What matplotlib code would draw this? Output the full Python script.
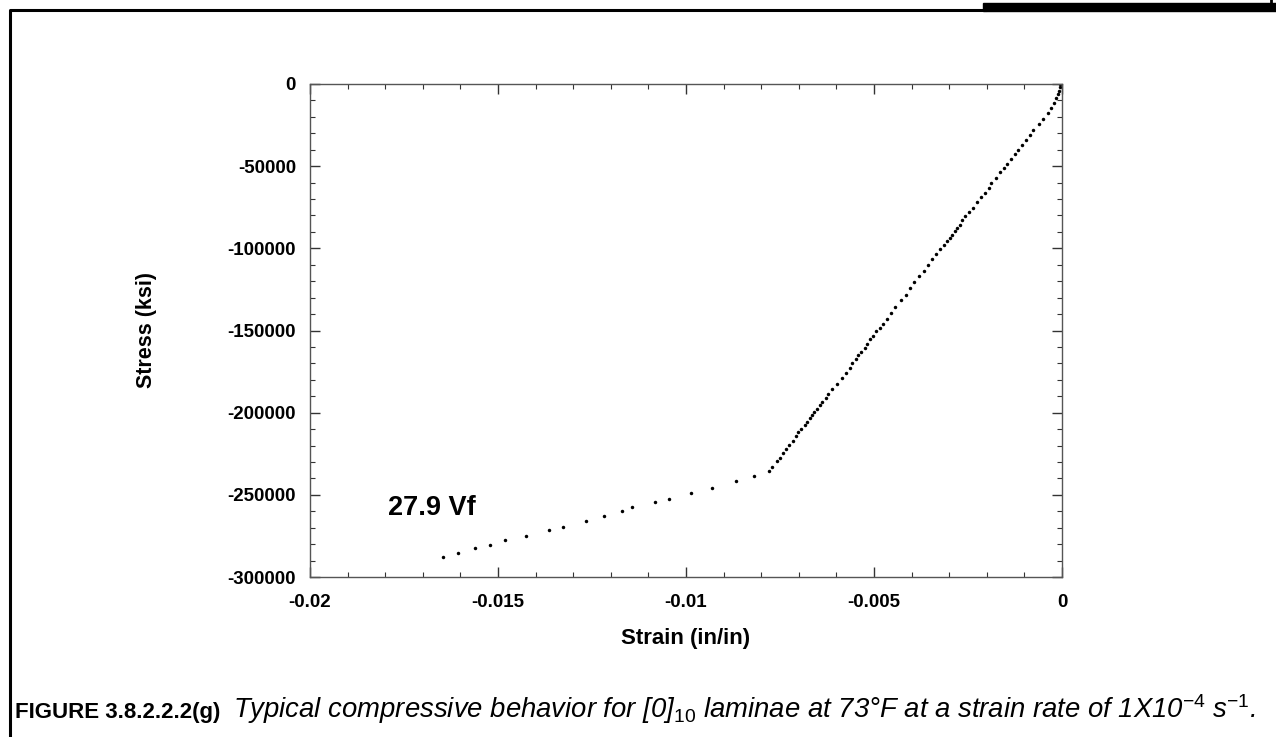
import numpy as np
import matplotlib
matplotlib.use('Agg')
import matplotlib.pyplot as plt
from matplotlib.lines import Line2D
from matplotlib.patches import Rectangle

plt.rcParams['font.family'] = ['Liberation Sans', 'DejaVu Sans']
plt.rcParams['mathtext.fontset'] = 'custom'
plt.rcParams['mathtext.rm'] = 'Liberation Sans'
plt.rcParams['mathtext.it'] = 'Liberation Sans:italic'
plt.rcParams['mathtext.bf'] = 'Liberation Sans:bold'
plt.rcParams['mathtext.default'] = 'it'

# strain (in/in) and stress readings
strain = [-0.01646, -0.01606, -0.01562, -0.01521, -0.01481, -0.01426, -0.01364,
          -0.01328, -0.01267, -0.01219, -0.01170, -0.01144, -0.01082, -0.01044,
          -0.00988, -0.00932, -0.00866, -0.00820, -0.00779, -0.007705, -0.00758,
          -0.007500, -0.007428, -0.007340, -0.007261, -0.007154, -0.007082,
          -0.007013, -0.006941, -0.006843, -0.006782, -0.006710, -0.006649,
          -0.006588, -0.006524, -0.006436, -0.006383, -0.006285, -0.006215,
          -0.006109, -0.005984, -0.005859, -0.005753, -0.005646, -0.005577,
          -0.005471, -0.005426, -0.005338, -0.005247, -0.005178, -0.005106,
          -0.005027, -0.004939, -0.004832, -0.004753, -0.004654, -0.004548,
          -0.004434, -0.004274, -0.004157, -0.004043,
          -0.003928, -0.003811, -0.003678, -0.003564, -0.003449, -0.003343,
          -0.003237, -0.003146, -0.003059, -0.002987, -0.002918, -0.002838,
          -0.002785, -0.002713, -0.002660, -0.002572, -0.002465, -0.002359,
          -0.002261, -0.002162, -0.002056, -0.001949, -0.001880, -0.001747,
          -0.001641, -0.001550, -0.001455, -0.001356, -0.001250, -0.001162,
          -0.001056, -0.000965, -0.000859, -0.000763, -0.000612, -0.000505,
          -0.000372, -0.000293, -0.000213, -0.000168, -0.000114, -0.000088,
          -0.000066, -0.000053]
stress = [-287600, -285200, -282500, -280300, -277600, -274800, -271200,
          -269300, -265700, -262800, -259600, -257700, -254300, -252300,
          -248800, -245600, -241600, -238600, -235400, -232900, -229500,
          -227300, -224600, -222400, -219700, -217100, -214500,
          -211800, -210200, -207500, -205700, -203500, -201600,
          -199600, -197600, -195300, -193700, -191300, -188800,
          -185400, -182300, -178800, -175600, -172600, -169500,
          -167100, -165200, -163000, -160600, -158100, -155300,
          -153100, -150400, -148400, -145900, -143100, -139600,
          -135800, -131500, -128100, -124400,
          -120500, -117100, -113600, -109900, -106700, -103500,
          -100400, -98000, -95700, -93500, -91600, -89600,
          -87800, -85800, -82900, -80500, -77900, -75200,
          -72100, -68700, -66300, -63200, -60200, -57300,
          -53800, -51000, -48400, -45500, -42500, -40100,
          -37000, -34100, -31100, -27900, -24400, -21200,
          -17700, -14500, -11600, -8700, -6300, -4100,
          -1800, -200]

x_ticks = [-0.02, -0.015, -0.01, -0.005, 0]
x_labels = ['-0.02', '-0.015', '-0.01', '-0.005', '0']
y_ticks = [0, -50000, -100000, -150000, -200000, -250000, -300000]
y_labels = ['0', '-50000', '-100000', '-150000', '-200000', '-250000', '-300000']

W, H = 1276, 737
fig = plt.figure(figsize=(W / 100, H / 100), dpi=100)
ax = fig.add_axes([310 / W, 1 - 577 / H, 752 / W, 493 / H])

ax.plot(strain, stress, 'o', color='black', ms=2.5, mew=0)

ax.set_xlim(-0.02, 0)
ax.set_ylim(-300000, 0)
ax.set_xticks(x_ticks)
ax.set_xticklabels(x_labels)
ax.set_yticks(y_ticks)
ax.set_yticklabels(y_labels)
ax.set_xticks(np.arange(-0.02, 0.0001, 0.001), minor=True)
ax.set_yticks(np.arange(-300000, 1, 10000), minor=True)

for s in ax.spines.values():
    s.set_color('#555555')
    s.set_linewidth(1.0)
ax.tick_params(which='both', direction='in', top=True, right=True, color='#333333')
ax.tick_params(which='major', length=7.5, width=1.0, labelsize=13.5, pad=12)
ax.tick_params(axis='y', which='major', pad=10)
ax.tick_params(which='minor', length=3.5, width=0.8)
for lab in ax.get_xticklabels() + ax.get_yticklabels():
    lab.set_fontweight('bold')

ax.set_xlabel('Strain (in/in)', fontsize=16, fontweight='bold')
ax.xaxis.set_label_coords(0.5, -0.103)
ax.set_ylabel('Stress (ksi)', fontsize=15.5, fontweight='bold')
ax.yaxis.set_label_coords(-0.203, 0.5)

ax.text(-0.01793, -262200, '27.9 Vf', fontsize=19.5, fontweight='bold',
        ha='left', va='baseline')

fig.text(15 / W, 1 - 718 / H, 'FIGURE 3.8.2.2.2(g)', fontsize=16,
         fontweight='bold', ha='left', va='baseline')
caption = (r'Typical compressive behavior for [0]$_{10}$ laminae at 73°F '
           r'at a strain rate of 1X10$^{-4}$ s$^{-1}$.')
fig.text(233 / W, 1 - 718 / H, caption, fontsize=19.8, style='italic',
         ha='left', va='baseline')

# page frame
def px(x, y):
    return x / W, 1 - y / H

fig.add_artist(Line2D(*zip(px(10, H + 2), px(10, 10), px(985, 10)),
                      color='black', lw=2.2, transform=fig.transFigure))
fig.add_artist(Rectangle(px(983, 11), (W - 983) / W, 8 / H, color='black',
                         transform=fig.transFigure))
fig.add_artist(Line2D(*zip(px(1271, 0), px(1271, 5)), color='black', lw=2,
                      transform=fig.transFigure))

fig.savefig('out.png', dpi=100)
